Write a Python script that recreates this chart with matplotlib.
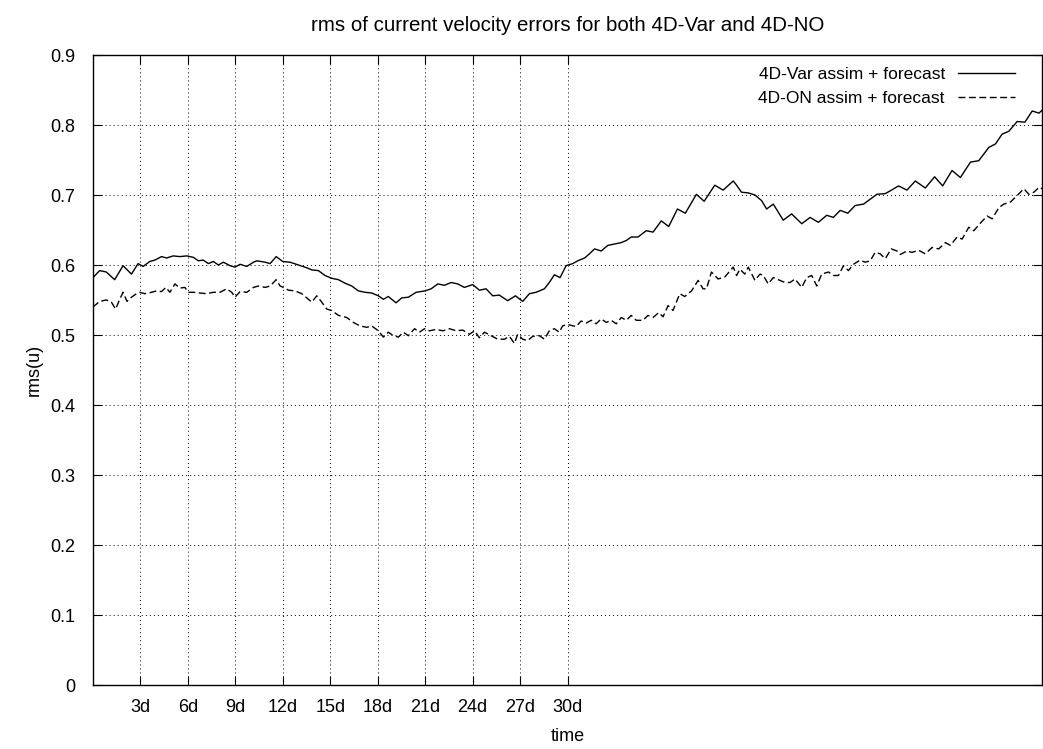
import matplotlib
matplotlib.use('Agg')
import matplotlib.pyplot as plt

plt.rcParams['font.family'] = ['Liberation Sans', 'DejaVu Sans']
plt.rcParams['lines.scale_dashes'] = False

# 4D-Var assim + forecast
var_days = [0.00, 0.42, 0.84, 1.37, 1.90, 2.43, 2.85, 3.17, 3.59, 3.91,
            4.33, 4.65, 5.07, 5.49, 5.92, 6.34, 6.66, 6.97, 7.29, 7.61,
            7.93, 8.24, 8.67, 8.98, 9.30, 9.72, 10.15, 10.36, 10.88, 11.20,
            11.58, 12.00, 12.46, 12.99, 13.52, 13.83, 14.25, 14.67, 15.09, 15.52,
            15.94, 16.36, 16.78, 17.20, 17.62, 18.04, 18.36, 18.67, 19.16, 19.52,
            19.94, 20.43, 21.00, 21.38, 21.80, 22.22, 22.64, 23.06, 23.48, 24.01,
            24.43, 24.85, 25.27, 25.69, 26.22, 26.71, 27.17, 27.59, 28.01, 28.54,
            28.85, 29.17, 29.53, 29.91, 30.33, 30.65, 31.08, 31.39, 31.71, 32.13,
            32.55, 32.98, 33.40, 33.72, 34.03, 34.46, 34.98, 35.41, 35.93, 36.40,
            36.95, 37.45, 38.15, 38.64, 39.31, 39.84, 40.48, 40.69, 41.00, 41.43,
            41.85, 42.27, 42.59, 43.01, 43.64, 44.17, 44.81, 45.34, 45.86, 46.39,
            46.81, 47.24, 47.72, 48.19, 48.72, 49.14, 49.56, 50.09, 50.41, 50.93,
            51.46, 51.99, 52.62, 53.21, 53.72, 54.31, 54.84, 55.48, 56.00, 56.64,
            57.06, 57.48, 57.90, 58.43, 58.92, 59.38, 59.81, 60.00]
var_rms = [0.582, 0.592, 0.590, 0.579, 0.599, 0.587, 0.602, 0.598, 0.605, 0.607,
           0.612, 0.610, 0.613, 0.612, 0.613, 0.611, 0.606, 0.607, 0.602, 0.605,
           0.600, 0.604, 0.599, 0.597, 0.601, 0.598, 0.604, 0.606, 0.604, 0.602,
           0.612, 0.605, 0.604, 0.600, 0.596, 0.593, 0.592, 0.585, 0.581, 0.579,
           0.574, 0.570, 0.563, 0.561, 0.560, 0.556, 0.551, 0.555, 0.546, 0.553,
           0.554, 0.561, 0.563, 0.566, 0.573, 0.571, 0.575, 0.573, 0.568, 0.572,
           0.564, 0.566, 0.556, 0.557, 0.549, 0.556, 0.548, 0.559, 0.561, 0.566,
           0.575, 0.586, 0.582, 0.599, 0.602, 0.606, 0.610, 0.616, 0.623, 0.620,
           0.628, 0.630, 0.632, 0.635, 0.640, 0.640, 0.649, 0.647, 0.663, 0.655,
           0.680, 0.674, 0.701, 0.691, 0.714, 0.707, 0.720, 0.714, 0.704, 0.703,
           0.700, 0.692, 0.680, 0.687, 0.664, 0.673, 0.659, 0.668, 0.661, 0.671,
           0.668, 0.678, 0.674, 0.685, 0.687, 0.694, 0.701, 0.702, 0.706, 0.713,
           0.707, 0.720, 0.710, 0.726, 0.713, 0.735, 0.725, 0.747, 0.749, 0.768,
           0.773, 0.787, 0.791, 0.805, 0.804, 0.820, 0.817, 0.821]

# 4D-ON assim + forecast
on_days = [0.00, 0.42, 0.84, 1.16, 1.43, 1.69, 1.90, 2.15, 2.43, 2.75,
           2.96, 3.27, 3.70, 4.01, 4.33, 4.61, 4.86, 5.18, 5.49, 5.81,
           6.02, 6.34, 6.76, 7.18, 7.61, 8.03, 8.45, 8.77, 8.98, 9.30,
           9.72, 10.15, 10.46, 10.88, 11.20, 11.58, 11.83, 12.04, 12.36, 12.78,
           13.20, 13.62, 13.83, 14.15, 14.46, 14.78, 15.09, 15.52, 16.04, 16.46,
           16.88, 17.31, 17.62, 18.04, 18.36, 18.67, 18.99, 19.31, 19.62, 19.94,
           20.33, 20.64, 20.96, 21.27, 21.69, 22.12, 22.54, 22.96, 23.38, 23.80,
           24.12, 24.43, 24.75, 25.17, 25.59, 26.01, 26.33, 26.64, 26.85, 27.17,
           27.48, 27.80, 28.22, 28.54, 28.85, 29.17, 29.48, 29.69, 30.01, 30.55,
           30.86, 31.18, 31.50, 31.81, 32.13, 32.45, 32.76, 33.08, 33.40, 33.72,
           34.03, 34.35, 34.77, 35.09, 35.41, 35.77, 36.04, 36.36, 36.67, 37.10,
           37.41, 37.84, 38.26, 38.57, 38.79, 39.10, 39.52, 39.95, 40.48, 40.69,
           40.90, 41.21, 41.43, 41.85, 42.17, 42.38, 42.69, 43.01, 43.33, 43.75,
           44.07, 44.38, 44.81, 45.12, 45.44, 45.76, 46.07, 46.50, 46.81, 47.13,
           47.45, 47.76, 48.08, 48.50, 48.82, 49.14, 49.45, 49.77, 50.09, 50.47,
           50.83, 51.04, 51.46, 51.78, 52.20, 52.62, 53.05, 53.47, 53.89, 54.21,
           54.63, 54.95, 55.37, 55.69, 56.11, 56.53, 56.85, 57.27, 57.59, 58.01,
           58.33, 58.64, 58.85, 59.17, 59.49, 59.81, 60.00]
on_rms = [0.540, 0.548, 0.550, 0.547, 0.537, 0.551, 0.561, 0.548, 0.554, 0.559,
          0.561, 0.559, 0.561, 0.563, 0.562, 0.568, 0.561, 0.573, 0.567, 0.568,
          0.561, 0.561, 0.560, 0.559, 0.561, 0.561, 0.566, 0.561, 0.554, 0.562,
          0.561, 0.568, 0.570, 0.568, 0.570, 0.579, 0.570, 0.568, 0.564, 0.563,
          0.559, 0.551, 0.547, 0.556, 0.547, 0.537, 0.535, 0.528, 0.525, 0.518,
          0.513, 0.511, 0.513, 0.506, 0.497, 0.504, 0.499, 0.497, 0.504, 0.499,
          0.509, 0.504, 0.509, 0.506, 0.508, 0.506, 0.509, 0.506, 0.507, 0.501,
          0.506, 0.496, 0.504, 0.499, 0.494, 0.494, 0.498, 0.488, 0.501, 0.494,
          0.492, 0.498, 0.499, 0.494, 0.506, 0.509, 0.504, 0.513, 0.515, 0.512,
          0.520, 0.517, 0.521, 0.516, 0.523, 0.518, 0.521, 0.516, 0.525, 0.521,
          0.528, 0.521, 0.521, 0.528, 0.525, 0.532, 0.526, 0.542, 0.535, 0.559,
          0.555, 0.563, 0.578, 0.566, 0.566, 0.590, 0.580, 0.583, 0.597, 0.585,
          0.594, 0.587, 0.597, 0.578, 0.587, 0.585, 0.573, 0.582, 0.579, 0.575,
          0.575, 0.580, 0.568, 0.582, 0.585, 0.570, 0.587, 0.590, 0.585, 0.585,
          0.599, 0.592, 0.601, 0.607, 0.604, 0.606, 0.618, 0.616, 0.609, 0.623,
          0.620, 0.615, 0.620, 0.618, 0.621, 0.616, 0.625, 0.623, 0.632, 0.628,
          0.640, 0.637, 0.654, 0.649, 0.660, 0.670, 0.666, 0.682, 0.687, 0.690,
          0.697, 0.704, 0.709, 0.701, 0.704, 0.711, 0.709]

xtick_days = [3, 6, 9, 12, 15, 18, 21, 24, 27, 30]
xtick_labels = ['%dd' % d for d in xtick_days]
ytick_vals = [0, 0.1, 0.2, 0.3, 0.4, 0.5, 0.6, 0.7, 0.8, 0.9]
ytick_labels = ['0', '0.1', '0.2', '0.3', '0.4', '0.5', '0.6', '0.7', '0.8', '0.9']

fig = plt.figure(figsize=(10.43, 7.49), dpi=100)
ax = fig.add_axes([93 / 1043, 64 / 749, 949 / 1043, 630 / 749])

ax.plot(var_days, var_rms, color='black', lw=1.0, solid_joinstyle='round',
        label='4D-Var assim + forecast')
ax.plot(on_days, on_rms, color='black', lw=1.0, linestyle=(0, (5.0, 2.5)),
        dash_joinstyle='round', label='4D-ON assim + forecast')

ax.set_xlim(0, 60)
ax.set_ylim(0, 0.9)
ax.set_xticks(xtick_days)
ax.set_xticklabels(xtick_labels)
ax.set_yticks(ytick_vals)
ax.set_yticklabels(ytick_labels)

# gnuplot-like ticks: inward, mirrored on all sides
ax.tick_params(direction='in', length=6.5, width=0.8, top=True, right=True,
               labelsize=13)
ax.tick_params(axis='x', pad=10)
ax.tick_params(axis='y', pad=13)
ax.grid(True, color='black', lw=0.7, linestyle=(0, (0.7, 2.2)))
for s in ax.spines.values():
    s.set_linewidth(1.0)

ax.set_xlabel('time', fontsize=13, labelpad=9)
ax.set_ylabel('rms(u)', fontsize=13, labelpad=5)
ax.set_title('rms of current velocity errors for both 4D-Var and 4D-NO',
             fontsize=14.8, pad=17)

ax.legend(loc='upper right', bbox_to_anchor=(0.979, 0.992), borderaxespad=0,
          frameon=False, markerfirst=False, fontsize=12.5,
          handlelength=3.3, handletextpad=0.75, labelspacing=0.5)

plt.savefig('out.png', dpi=100)
